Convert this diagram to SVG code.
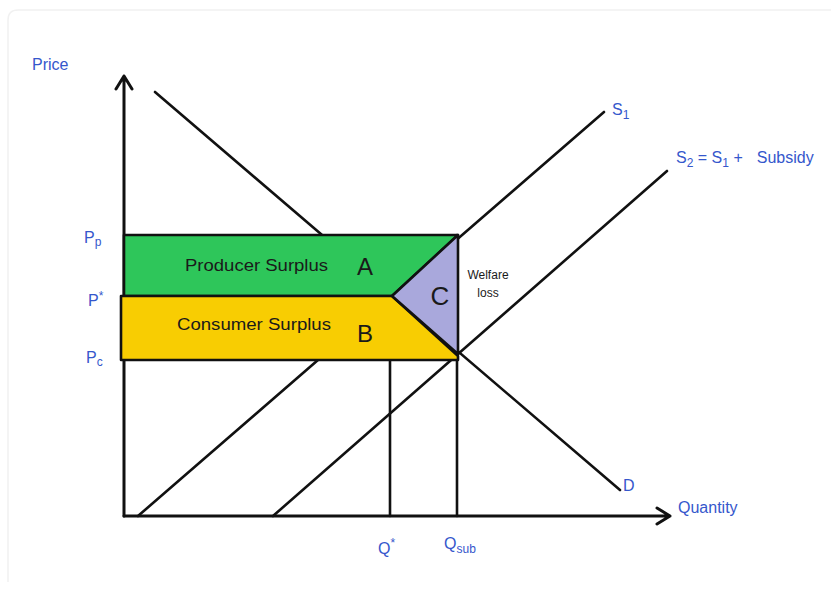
<svg xmlns="http://www.w3.org/2000/svg" width="839" height="589" viewBox="0 0 839 589">
<style>
.ax{stroke:#111;stroke-width:3;fill:none;stroke-linecap:round;stroke-linejoin:round}
.ln{stroke:#111;stroke-width:2.6;fill:none;stroke-linecap:round}
.edge{stroke:#111;stroke-width:2.6;stroke-linejoin:round}
.hw{font-family:"Liberation Sans","DejaVu Sans",sans-serif;fill:#3557cc;font-size:16px}
.lab{font-family:"Liberation Sans",Arial,sans-serif;fill:#1a1a1a}
</style>
<rect width="839" height="589" fill="#fff"/>
<path d="M8 582 V20 Q8 10 18 10 H831" fill="none" stroke="#f1f1f1" stroke-width="1.5"/>
<g id="connectors">
  <line id="demand" class="ln" x1="155" y1="92" x2="620" y2="490"/>
  <line id="s1" class="ln" x1="138" y1="516" x2="604" y2="112"/>
  <line id="s2" class="ln" x1="273" y1="516" x2="667" y2="171"/>
  <line id="qstar" class="ln" x1="390" y1="360" x2="390" y2="516"/>
  <line id="qsub" class="ln" x1="457" y1="235" x2="457" y2="516"/>
  <path id="y-axis" class="ax" d="M124 516 V76 M116 89 L124 76 L132 89"/>
  <path id="x-axis" class="ax" d="M124 516 H670 M657 508 L670 516 L657 524"/>
</g>
<g id="areas">
  <g id="producer-surplus">
    <polygon points="124,235 458,235 392,296 124,296" fill="#2ec65a" class="edge"/>
    <text class="lab" x="185" y="271" font-size="16" textLength="143" lengthAdjust="spacingAndGlyphs">Producer Surplus</text>
    <text class="lab" x="365" y="275" font-size="24" text-anchor="middle">A</text>
  </g>
  <g id="consumer-surplus">
    <polygon points="121,296 392,296 458,356 458,360 121,360" fill="#f8cd02" class="edge"/>
    <text class="lab" x="177" y="330" font-size="16" textLength="154" lengthAdjust="spacingAndGlyphs">Consumer Surplus</text>
    <text class="lab" x="365" y="342" font-size="24" text-anchor="middle">B</text>
  </g>
  <g id="welfare-loss">
    <polygon points="458,235 392,296 458,354" fill="#a9a8dc" class="edge"/>
    <text class="lab" x="440" y="305" font-size="26" text-anchor="middle">C</text>
    <text class="lab" x="488" y="279" font-size="12" fill="#333" text-anchor="middle">Welfare</text>
    <text class="lab" x="488" y="297" font-size="12" fill="#333" text-anchor="middle">loss</text>
  </g>
</g>
<g id="labels">
  <text class="hw" x="32" y="70" font-size="17">Price</text>
  <text class="hw" x="84" y="243">P<tspan font-size="12" dy="3">p</tspan></text>
  <text class="hw" x="88" y="306">P<tspan font-size="12" dy="-6">*</tspan></text>
  <text class="hw" x="86" y="363">P<tspan font-size="12" dy="3">c</tspan></text>
  <text class="hw" x="612" y="115" font-size="18">S<tspan font-size="12" dy="4">1</tspan></text>
  <text class="hw" x="676" y="163" font-size="18">S<tspan font-size="12" dy="4">2</tspan><tspan dy="-4"> = S</tspan><tspan font-size="12" dy="4">1</tspan><tspan dy="-4"> +</tspan><tspan dx="14">Subsidy</tspan></text>
  <text class="hw" x="623" y="491" font-size="13">D</text>
  <text class="hw" x="678" y="513">Quantity</text>
  <text class="hw" x="378" y="554" font-size="17">Q<tspan font-size="12" dy="-7">*</tspan></text>
  <text class="hw" x="444" y="549" font-size="17">Q<tspan font-size="12" dy="4">sub</tspan></text>
</g>
</svg>
